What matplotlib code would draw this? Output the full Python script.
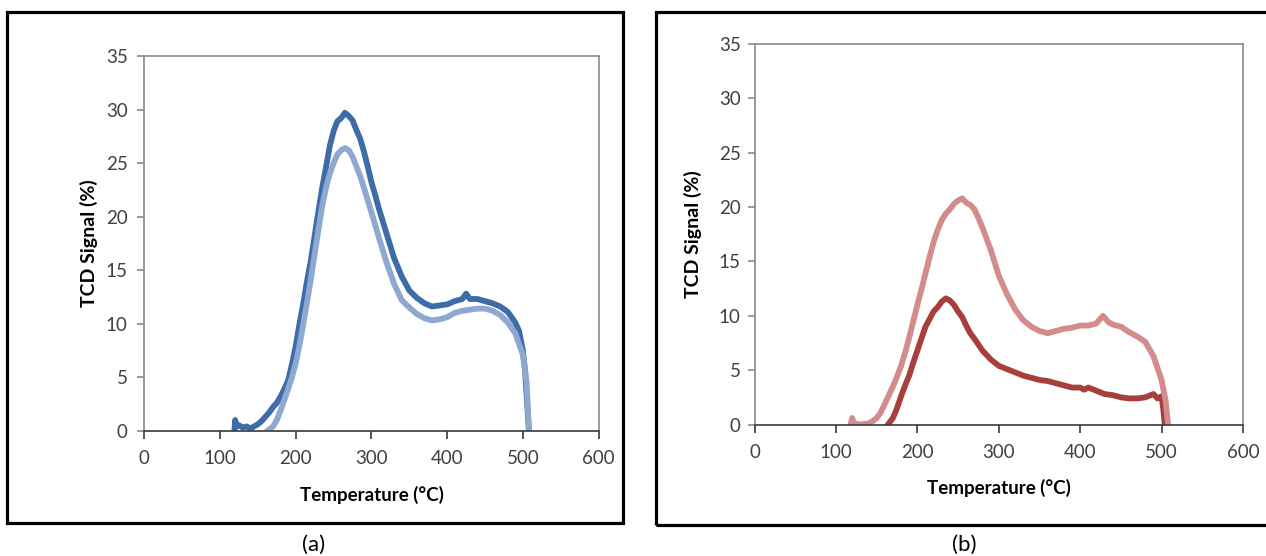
import matplotlib
matplotlib.use("Agg")
import matplotlib.pyplot as plt
from matplotlib.patches import Rectangle

plt.rcParams['font.family'] = ['Lato', 'DejaVu Sans']

# ---- data ----
# panel (a): blue pair
temp_a_dark = [119, 120, 122, 125, 130, 135, 140, 145, 150, 155, 160, 165, 170, 175, 180,
               185, 190, 195, 200, 205, 210, 215, 220, 225, 230, 235, 240, 245, 250, 255,
               260, 265, 270, 275, 280, 285, 290, 295, 300, 305, 310, 320, 330, 340, 350,
               360, 370, 380, 390, 400, 410, 420, 425, 430, 440, 450, 460, 470, 480, 490,
               495, 500, 503, 506, 508]
tcd_a_dark = [0, 1.0, 0.4, 0.5, 0.3, 0.4, 0.2, 0.4, 0.6, 0.9, 1.3, 1.7, 2.2, 2.6, 3.2,
              3.9, 4.7, 6.2, 7.9, 10.0, 11.9, 14.0, 15.9, 18.2, 20.5, 22.7, 24.6, 26.6, 28.0, 28.9,
              29.2, 29.7, 29.4, 29.0, 28.1, 27.3, 26.1, 24.7, 23.2, 22.0, 20.7, 18.4, 16.1, 14.4, 13.1,
              12.4, 11.9, 11.6, 11.7, 11.8, 12.1, 12.3, 12.8, 12.3, 12.3, 12.1, 11.9, 11.6, 11.1, 10.1,
              9.3, 7.5, 5.5, 2.2, 0]

temp_a_light = [163, 170, 175, 180, 185, 190, 195, 200, 205, 210, 215, 220, 225, 230, 235,
                240, 245, 250, 255, 260, 265, 270, 275, 280, 285, 290, 300, 310, 320, 330,
                340, 350, 360, 370, 380, 390, 400, 410, 420, 430, 440, 450, 460, 470, 480,
                490, 500, 505, 508]
tcd_a_light = [0, 0.4, 1.0, 1.9, 2.9, 3.9, 5.0, 6.3, 8.0, 10.0, 12.0, 14.2, 16.5, 18.8, 21.0,
               22.7, 24.0, 25.0, 25.8, 26.2, 26.4, 26.2, 25.6, 24.7, 23.8, 22.7, 20.4, 18.0, 15.7, 13.7,
               12.2, 11.5, 10.9, 10.5, 10.3, 10.4, 10.6, 11.0, 11.2, 11.3, 11.4, 11.4, 11.2, 10.8, 10.1,
               9.1, 7.1, 4.5, 0]

# panel (b): red pair
temp_b_dark = [164, 170, 175, 180, 185, 190, 195, 200, 205, 210, 215, 220, 225, 230, 235,
               240, 245, 250, 255, 260, 265, 270, 280, 290, 300, 310, 320, 330, 340, 350,
               360, 370, 380, 390, 400, 405, 410, 420, 430, 440, 450, 460, 470, 480, 490,
               495, 500, 502, 504]
tcd_b_dark = [0, 0.6, 1.5, 2.6, 3.6, 4.5, 5.7, 6.8, 7.9, 9.0, 9.7, 10.4, 10.8, 11.3, 11.6,
              11.4, 11.0, 10.4, 9.9, 9.1, 8.4, 7.9, 6.8, 6.0, 5.4, 5.1, 4.8, 4.5, 4.3, 4.1,
              4.0, 3.8, 3.6, 3.4, 3.4, 3.2, 3.4, 3.1, 2.8, 2.7, 2.5, 2.4, 2.4, 2.5, 2.8,
              2.4, 2.6, 1.5, 0]

temp_b_light = [118, 120, 122, 130, 140, 145, 150, 155, 160, 165, 170, 175, 180, 185, 190,
                195, 200, 205, 210, 215, 220, 225, 230, 235, 240, 245, 250, 255, 260, 265,
                270, 275, 280, 290, 300, 310, 320, 330, 340, 350, 360, 370, 380, 390, 400,
                410, 420, 428, 435, 440, 450, 460, 470, 480, 490, 500, 505, 508]
tcd_b_light = [0, 0.6, 0.1, 0, 0.1, 0.3, 0.6, 1.1, 1.9, 2.7, 3.5, 4.4, 5.4, 6.6, 8.0,
               9.5, 11.0, 12.4, 13.9, 15.4, 16.8, 17.9, 18.8, 19.4, 19.8, 20.3, 20.6, 20.8, 20.4, 20.2,
               19.8, 19.0, 18.1, 16.1, 13.7, 12.0, 10.6, 9.6, 9.0, 8.6, 8.4, 8.6, 8.8, 8.9, 9.1,
               9.1, 9.3, 10.0, 9.4, 9.2, 9.0, 8.5, 8.1, 7.6, 6.3, 4.1, 2.2, 0]

x_ticks = [0, 100, 200, 300, 400, 500, 600]
y_ticks = [0, 5, 10, 15, 20, 25, 30, 35]

blue_dark = '#3E6CA8'
blue_light = '#8EA8D2'
red_dark = '#A7403D'
red_light = '#D18C8B'


def style_axes(ax, ypad):
    ax.set_xlim(0, 600)
    ax.set_ylim(0, 35)
    ax.set_xticks(x_ticks)
    ax.set_yticks(y_ticks)
    for side in ['left', 'top', 'right']:
        ax.spines[side].set_color('#8a8a8a')
        ax.spines[side].set_linewidth(1.2)
    ax.spines['bottom'].set_color('#3a3a3a')
    ax.spines['bottom'].set_linewidth(1.2)
    ax.tick_params(axis='x', direction='out', length=6, width=1.2, color='#3a3a3a',
                   labelsize=13.5, labelcolor='#404040', pad=8)
    ax.tick_params(axis='y', direction='out', length=5, width=1.2, color='#8a8a8a',
                   labelsize=13.5, labelcolor='#404040', pad=ypad)
    ax.set_xlabel('Temperature (°C)', fontsize=13.5, fontweight='bold')
    ax.set_ylabel('TCD Signal (%)', fontsize=14, fontweight='bold')


fig = plt.figure(figsize=(12.66, 5.56), dpi=100)

# panel frames
fig.add_artist(Rectangle((0.0058, 0.0594), 0.4863, 0.9196, transform=fig.transFigure,
                         fill=False, ec='black', lw=2.3))
fig.add_artist(Rectangle((0.5182, 0.0558), 0.50, 0.9219, transform=fig.transFigure,
                         fill=False, ec='black', lw=2.3))

ax1 = fig.add_axes([0.1140, 0.2254, 0.3588, 0.6739])
ax1.plot(temp_a_dark, tcd_a_dark, color=blue_dark, lw=4.2, solid_joinstyle='round')
ax1.plot(temp_a_light, tcd_a_light, color=blue_light, lw=4.2, solid_joinstyle='round')
style_axes(ax1, 7)
ax1.xaxis.set_label_coords(0.5, -0.172)
ax1.xaxis.label.set_va('center')
ax1.yaxis.set_label_coords(-0.122, 0.5)
ax1.yaxis.label.set_va('center')

ax2 = fig.add_axes([0.5960, 0.2365, 0.3858, 0.6844])
ax2.plot(temp_b_dark, tcd_b_dark, color=red_dark, lw=4.2, solid_joinstyle='round')
ax2.plot(temp_b_light, tcd_b_light, color=red_light, lw=4.2, solid_joinstyle='round')
style_axes(ax2, 5)
ax2.xaxis.set_label_coords(0.5, -0.167)
ax2.xaxis.label.set_va('center')
ax2.yaxis.set_label_coords(-0.126, 0.5)
ax2.yaxis.label.set_va('center')

fig.text(314 / 1266, 1 - 544.5 / 556, '(a)', ha='center', va='center', fontsize=16)
fig.text(964 / 1266, 1 - 544.5 / 556, '(b)', ha='center', va='center', fontsize=16)

fig.savefig('out.png', dpi=100)
